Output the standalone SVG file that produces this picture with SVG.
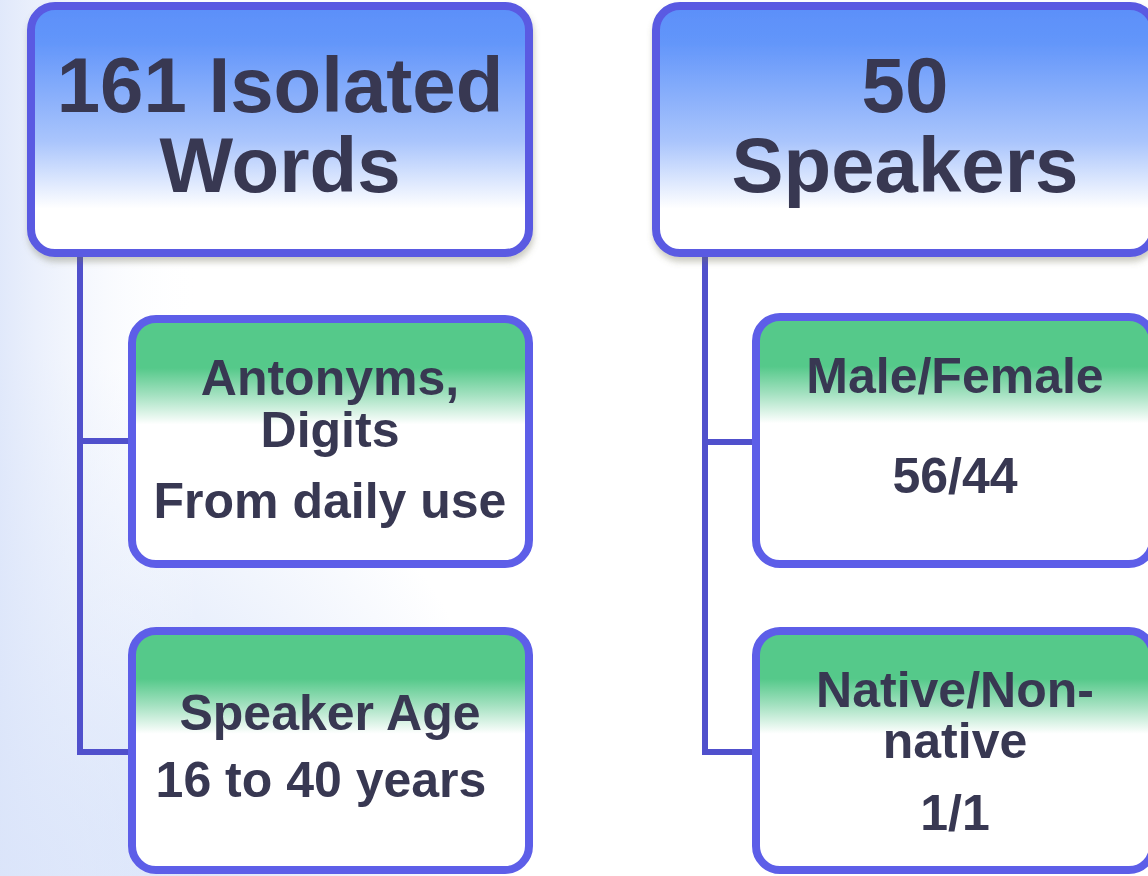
<svg xmlns="http://www.w3.org/2000/svg" width="1148" height="876" viewBox="0 0 1148 876">
<defs>
<radialGradient id="bg" cx="0" cy="876" r="520" gradientUnits="userSpaceOnUse">
<stop offset="0" stop-color="#c6d6f8"/>
<stop offset="0.5" stop-color="#e3ebfb"/>
<stop offset="1" stop-color="#ffffff"/>
</radialGradient>
<linearGradient id="bgl" x1="0" y1="0" x2="1" y2="0">
<stop offset="0" stop-color="#dde6fa" stop-opacity="0.9"/>
<stop offset="1" stop-color="#ffffff" stop-opacity="0"/>
</linearGradient>
<linearGradient id="blue" x1="0" y1="0" x2="0" y2="1">
<stop offset="0" stop-color="#5b8ff9"/>
<stop offset="0.15" stop-color="#6396fa"/>
<stop offset="0.55" stop-color="#aac5fc"/>
<stop offset="0.82" stop-color="#ffffff"/>
<stop offset="1" stop-color="#ffffff"/>
</linearGradient>
<linearGradient id="green" x1="0" y1="0" x2="0" y2="1">
<stop offset="0" stop-color="#55c98a"/>
<stop offset="0.2" stop-color="#55c98a"/>
<stop offset="0.31" stop-color="#a3e1c0"/>
<stop offset="0.43" stop-color="#ffffff"/>
<stop offset="1" stop-color="#ffffff"/>
</linearGradient>
<filter id="sh" x="-5%" y="-5%" width="110%" height="115%">
<feDropShadow dx="1" dy="5" stdDeviation="3" flood-color="#6a6a50" flood-opacity="0.35"/>
</filter>
</defs>
<style>
.top{fill:url(#blue);stroke:#5a5ae2;stroke-width:8}
.child{fill:url(#green);stroke:#5d5ee8;stroke-width:8}
.conn{fill:none;stroke:#5050cc;stroke-width:6}
.t{font-family:"Liberation Sans",Arial,sans-serif;font-weight:bold;fill:#383852;text-anchor:middle}
.big{font-size:78px}
.sm{font-size:50px}
</style>
<rect x="0" y="0" width="1148" height="876" fill="#ffffff"/>
<rect x="0" y="0" width="560" height="876" fill="url(#bg)"/>
<rect x="0" y="0" width="200" height="876" fill="url(#bgl)"/>
<g id="connectors">
<polyline class="conn" points="80,255 80,752 130,752"/>
<line class="conn" x1="80" y1="441" x2="130" y2="441"/>
<polyline class="conn" points="705,255 705,752 754,752"/>
<line class="conn" x1="705" y1="442" x2="754" y2="442"/>
</g>
<g id="node-words">
<rect class="top" x="31" y="6" width="498" height="247" rx="24" filter="url(#sh)"/>
<text class="t big" x="280" y="112">161 Isolated</text>
<text class="t big" x="280" y="192">Words</text>
</g>
<g id="node-speakers">
<rect class="top" x="656" y="6" width="498" height="247" rx="24" filter="url(#sh)"/>
<text class="t big" x="905" y="112">50</text>
<text class="t big" x="905" y="192">Speakers</text>
</g>
<g id="node-antonyms">
<rect class="child" x="132" y="319" width="397" height="245" rx="24"/>
<text class="t sm" x="330" y="395">Antonyms,</text>
<text class="t sm" x="330" y="447">Digits</text>
<text class="t sm" x="330" y="518">From daily use</text>
</g>
<g id="node-age">
<rect class="child" x="132" y="631" width="397" height="239" rx="24"/>
<text class="t sm" x="330" y="730">Speaker Age</text>
<text class="t sm" x="321" y="797">16 to 40 years</text>
</g>
<g id="node-gender">
<rect class="child" x="756" y="317" width="397" height="247" rx="24"/>
<text class="t sm" x="955" y="393">Male/Female</text>
<text class="t sm" x="955" y="493">56/44</text>
</g>
<g id="node-native">
<rect class="child" x="756" y="631" width="397" height="239" rx="24"/>
<text class="t sm" x="955" y="707">Native/Non-</text>
<text class="t sm" x="955" y="758">native</text>
<text class="t sm" x="955" y="830">1/1</text>
</g>
</svg>
